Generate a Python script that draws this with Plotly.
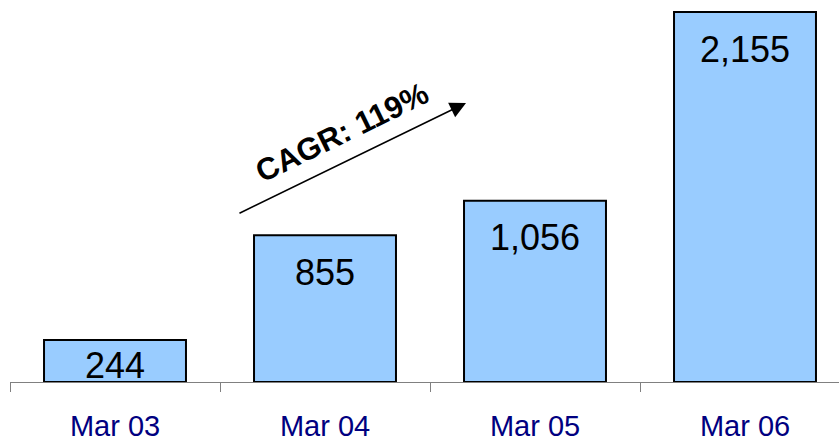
import plotly.graph_objects as go

categories = ["Mar 03", "Mar 04", "Mar 05", "Mar 06"]
values = [244, 855, 1056, 2155]
value_labels = ["244", "855", "1,056", "2,155"]
cagr_text = "CAGR: 119%"

W, H = 839, 441
ml, mr, mt, mb = 10, 0, 5, 59
plot_h = H - mt - mb
px_per_cat = 210
px_per_unit = 370 / 2155
y_top = plot_h / px_per_unit
x_range = [-0.5, -0.5 + (W - ml - mr) / px_per_cat]

fig = go.Figure()
fig.add_trace(go.Bar(
    x=categories, y=values, width=0.676,
    marker=dict(color="#99CCFF", line=dict(color="#000000", width=2)),
    hoverinfo="skip",
))

annotations = []
for cat, v, lab in zip(categories, values, value_labels):
    bar_px = v * px_per_unit
    off = min(37, bar_px - 17)
    annotations.append(dict(
        x=cat, y=v, xref="x", yref="y", text=lab, showarrow=False,
        yanchor="middle", yshift=-off,
        font=dict(family="Liberation Sans, Arial", size=36, color="#000000"),
    ))

annotations.append(dict(
    x=0.5501, y=0.7401, ax=0.2750, ay=0.4456,
    xref="x domain", yref="y domain", axref="x domain", ayref="y domain",
    text="", showarrow=True, arrowhead=2, arrowsize=2.0, arrowwidth=1.6,
    arrowcolor="#000000",
))
annotations.append(dict(
    x=0.4005, y=0.6631, xref="x domain", yref="y domain",
    text="<b>" + cagr_text + "</b>", showarrow=False, textangle=-26,
    font=dict(family="Liberation Sans, Arial", size=31, color="#000000"),
))

fig.update_layout(
    width=W, height=H,
    margin=dict(l=ml, r=mr, t=mt, b=mb),
    paper_bgcolor="white", plot_bgcolor="white",
    showlegend=False,
    annotations=annotations,
    xaxis=dict(
        type="category", range=x_range,
        showgrid=False, zeroline=False,
        showline=True, linecolor="#808080", linewidth=1,
        ticks="outside", ticklen=9, tickcolor="#808080", tickwidth=1,
        tickson="boundaries",
        tickfont=dict(family="Liberation Sans, Arial", size=29, color="#000080"),
        ticklabelstandoff=18,
        fixedrange=True,
    ),
    yaxis=dict(
        range=[0, y_top], visible=False, showgrid=False, zeroline=False,
        fixedrange=True,
    ),
)

fig.write_html("out.html")
